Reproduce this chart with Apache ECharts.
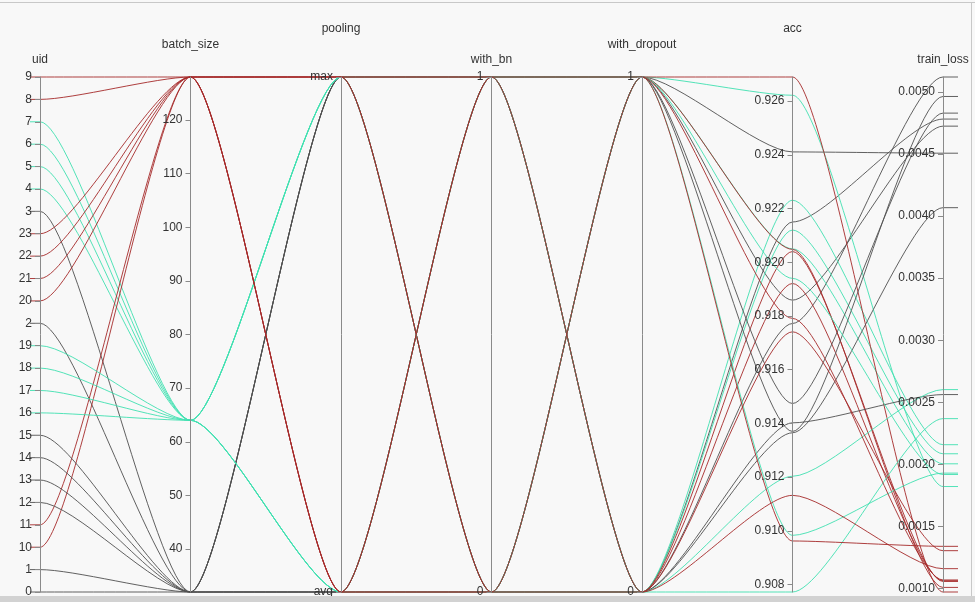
<!DOCTYPE html>
<html><head><meta charset="utf-8">
<script src="https://cdn.jsdelivr.net/npm/echarts/dist/echarts.min.js"></script>
<style>
html,body{margin:0;padding:0;width:975px;height:602px;overflow:hidden;background:#d2d2d2;}
#frame{position:absolute;left:0;top:0;width:975px;height:596px;background:#f8f8f8;}
#topline{position:absolute;left:0;top:2px;width:975px;height:1px;background:#c8c8c8;}
#rightline{position:absolute;left:971px;top:2px;width:1px;height:594px;background:#c8c8c8;}
#chart{position:absolute;left:0;top:0;width:975px;height:596px;}
</style></head><body>
<div id="frame"></div><div id="topline"></div><div id="rightline"></div><div id="chart"></div>
<script>
// uid axis categories (string-sorted order, bottom to top)
const uidCategories = ['0','1','10','11','12','13','14','15','16','17','18','19','2','20','21','22','23','3','4','5','6','7','8','9'];
const poolingCategories = ['avg','max'];

// per-run values, indexed by uid 0..23
const uids       = ['0','1','2','3','4','5','6','7','8','9','10','11','12','13','14','15','16','17','18','19','20','21','22','23'];
const batchSize  = [32,32,32,32,64,64,64,64,128,128,128,128,32,32,32,32,64,64,64,64,128,128,128,128];
const pooling    = ['max','max','max','max','max','max','max','max','max','max','max','max','avg','avg','avg','avg','avg','avg','avg','avg','avg','avg','avg','avg'];
const withBn     = [1,1,0,0,1,1,0,0,1,1,0,0,1,1,0,0,1,1,0,0,1,1,0,0];
const withDropout= [0,1,0,1,0,1,0,1,0,1,0,1,0,1,0,1,0,1,0,1,0,1,0,1];
const acc        = [0.92150,0.92411,0.91772,0.91859,0.92231,0.92622,0.92120,0.92050,0.92040,0.92690,0.91921,0.92048,
                    0.91402,0.91474,0.91365,0.91370,0.91203,0.91940,0.90772,0.90983,0.91741,0.91791,0.91132,0.90962];
const trainLoss  = [0.004782,0.004507,0.005121,0.004725,0.002158,0.001821,0.002085,0.002004,0.001056,0.000971,0.001062,0.001008,
                    0.002562,0.004830,0.004068,0.004964,0.002602,0.001918,0.002368,0.001929,0.001304,0.001068,0.001159,0.001339];

const batchColors = {32:'#505050', 64:'#40e0b0', 128:'#a52a2a'};

const rows = uids.map((u,i)=>[u,batchSize[i],pooling[i],withBn[i],withDropout[i],acc[i],trainLoss[i]]);

const FONT = 'Liberation Sans, Arial, sans-serif';
const CURVE_K = 0.22;   // horizontal handle length as a fraction of the axis spacing
const STUB_L = 10, STUB_R = 15;
const LINE_OPACITY = 0.9;

const chart = echarts.init(document.getElementById('chart'), null, {renderer:'canvas'});

let curvesDrawn = false;
function parallelSys(){
  try {
    const m = typeof chart.getModel === 'function' ? chart.getModel() : chart._model;
    const p = m && m.getComponent('parallel', 0);
    return (p && p.coordinateSystem) || null;
  } catch(e){ return null; }
}
function toPoint(s, v, dim){
  if (typeof s.dataToPoint === 'function') {
    const p = s.dataToPoint(v, dim);
    if (p && !isNaN(p[0]) && !isNaN(p[1])) return p;
  }
  const ax = s.getAxis && s.getAxis(dim);
  if (ax && s.axisCoordToPoint) {
    const p = s.axisCoordToPoint(ax.dataToCoord(v), dim);
    if (p && !isNaN(p[0]) && !isNaN(p[1])) return p;
  }
  return null;
}
// each run: horizontal-tangent bezier segments between the parallel axes,
// every point taken from the parallel coordinate system's own axis scales
function renderRun(params, api){
  const s = parallelSys();
  if (!s) return null;
  const i = params.dataIndex;
  const vals = [uidCategories.indexOf(uids[i]), batchSize[i], poolingCategories.indexOf(pooling[i]),
                withBn[i], withDropout[i], acc[i], trainLoss[i]];
  const dims = s.dimensions || vals.map((v,j)=>'dim'+j);
  let pts;
  try { pts = vals.map((v,j)=>toPoint(s, v, dims[j])); } catch(e){ return null; }
  if (pts.some(p=>!p)) return null;
  curvesDrawn = true;
  const style = {stroke: batchColors[batchSize[i]], lineWidth:1, fill:'none', opacity: LINE_OPACITY};
  const children = [];
  const first = pts[0], last = pts[pts.length-1];
  children.push({type:'line', shape:{x1:first[0]-STUB_L, y1:first[1], x2:first[0], y2:first[1]}, style});
  for (let j=0; j<pts.length-1; j++){
    const a = pts[j], b = pts[j+1], dx = b[0]-a[0];
    children.push({type:'bezierCurve', shape:{x1:a[0], y1:a[1], x2:b[0], y2:b[1],
      cpx1:a[0]+CURVE_K*dx, cpy1:a[1], cpx2:b[0]-CURVE_K*dx, cpy2:b[1]}, style});
  }
  children.push({type:'line', shape:{x1:last[0], y1:last[1], x2:last[0]+STUB_R, y2:last[1]}, style});
  return {type:'group', children};
}

chart.setOption({
  animation:false,
  parallel:{
    left:40, right:32, top:77, bottom:4,
    parallelAxisDefault:{
      nameLocation:'end',
      nameTextStyle:{color:'#333', fontSize:12, fontFamily:FONT},
      axisLine:{lineStyle:{color:'#8a8a8a', width:1}},
      axisTick:{length:-5, lineStyle:{color:'#8a8a8a'}},
      axisLabel:{margin:-8, align:'right', color:'#333', fontSize:12, fontFamily:FONT},
      splitLine:{show:false}
    }
  },
  parallelAxis:[
    {dim:0, name:'uid', type:'category', data:uidCategories, boundaryGap:false, nameGap:11, axisLabel:{interval:0}, axisTick:{interval:0}},
    {dim:1, name:'batch_size', type:'value', min:'dataMin', max:'dataMax', splitNumber:10, nameGap:26,
      axisLabel:{showMinLabel:false, showMaxLabel:false}},
    {dim:2, name:'pooling', type:'category', data:poolingCategories, boundaryGap:false, nameGap:42},
    {dim:3, name:'with_bn', type:'value', min:0, max:1, interval:1, nameGap:11},
    {dim:4, name:'with_dropout', type:'value', min:0, max:1, interval:1, nameGap:26},
    {dim:5, name:'acc', type:'value', min:'dataMin', max:'dataMax', splitNumber:10, nameGap:42,
      axisLabel:{showMinLabel:false, showMaxLabel:false, formatter:v=>v.toFixed(3)}},
    {dim:6, name:'train_loss', type:'value', min:'dataMin', max:'dataMax', splitNumber:8, nameGap:11,
      axisLabel:{showMinLabel:false, showMaxLabel:false, formatter:v=>v.toFixed(4)}}
  ],
  visualMap:{
    show:false, type:'piecewise', dimension:1, seriesIndex:0,
    pieces:[{value:32,color:batchColors[32]},{value:64,color:batchColors[64]},{value:128,color:batchColors[128]}]
  },
  series:[{
    // the runs on the parallel axes (their curved strokes are drawn by the series below)
    type:'parallel', silent:true, smooth:0.08,
    lineStyle:{width:1, opacity:0},
    data:rows
  },{
    type:'custom', coordinateSystem:'none', silent:true, z:3,
    renderItem: renderRun,
    data: uids.map((u,i)=>[i])
  }]
});

// fallback: show the library's own parallel polylines if the curves could not be built
if (!curvesDrawn){
  chart.setOption({series:[{lineStyle:{width:1, opacity:LINE_OPACITY}}, {}]});
}
</script>
</body></html>
